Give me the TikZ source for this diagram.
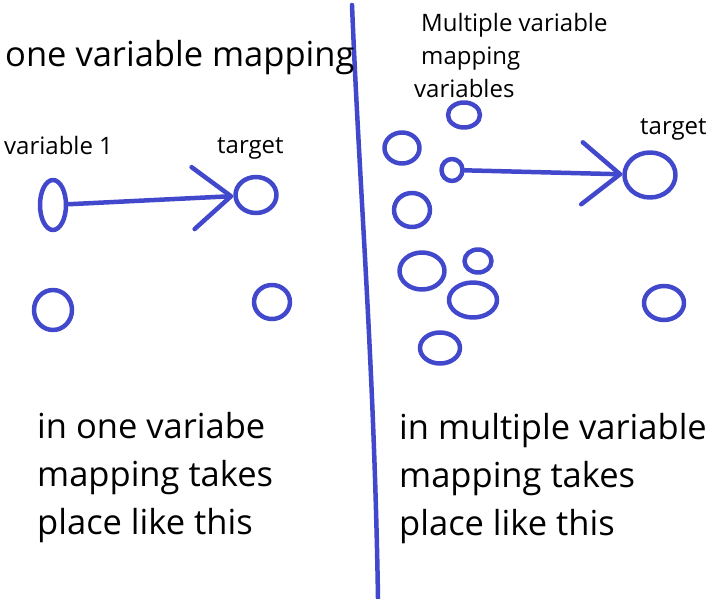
\documentclass[tikz,border=0pt]{standalone}
\usepackage{fontspec}
\setmainfont{Open Sans}
\usetikzlibrary{positioning, calc, arrows.meta, shapes.geometric}
\definecolor{penblue}{RGB}{66,72,204}

\begin{document}
\begin{tikzpicture}[x=1pt, y=-1pt,
    pen/.style={draw=penblue, line width=4.5pt, line cap=round, line join=round},
    blob/.style={pen, ellipse, inner sep=0pt},
    maparrow/.style={pen, -{Straight Barb[length=38pt, width=62pt, line cap=round, line join=round]}},
    lbl/.style={anchor=base west, inner sep=0pt, font=\fontsize{24}{30}\selectfont},
    big/.style={anchor=base west, inner sep=0pt, align=left, font=\fontsize{34.5}{48}\selectfont}]
    \useasboundingbox[fill=white] (0,0) rectangle (710,599);

    % Divider
    \coordinate (divtop) at (352,5);
    \coordinate (divbot) at (378,598);
    \draw[pen] (divtop) .. controls (360,200) and (374,360) .. (divbot);

    % One variable side
    \node[lbl, font=\fontsize{34.5}{40}\selectfont] (titleL) at (5,67) {one variable mapping};
    \node[lbl] (varlbl) at (4,155) {variable 1};
    \node[lbl] (tgtlblL) at (217,154) {target};
    \node[blob, minimum width=26pt, minimum height=50pt] (var1) at (53,205) {};
    \node[blob, minimum width=41pt, minimum height=36pt] (tgtL) at (256,195) {};
    \node[blob, minimum width=38pt, minimum height=40pt] (otherL) at (53,310) {};
    \node[blob, minimum width=36pt, minimum height=34pt] (tgtL2) at (272,302) {};
    \draw[maparrow] (var1) -- (tgtL);
    \node[big] (noteL) at (37,534) {in one variabe\\mapping takes\\place like this};

    % Multiple variable side
    \node[lbl] (titleR) at (421,32) {Multiple variable};
    \node[lbl] (titleR2) at (421,65) {mapping};
    \node[lbl] (varslbl) at (414,98) {variables};
    \node[lbl] (tgtlblR) at (640,135) {target};
    \node[blob, minimum width=32pt, minimum height=25pt] (v1) at (464,115) {};
    \node[blob, minimum width=35pt, minimum height=31pt] (v2) at (402,148) {};
    \node[blob, minimum width=21pt, minimum height=22pt] (src) at (452,170) {};
    \node[blob, minimum width=36pt, minimum height=34pt] (v3) at (412,210) {};
    \node[blob, minimum width=45pt, minimum height=37pt] (v4) at (422,271) {};
    \node[blob, minimum width=27pt, minimum height=23pt] (v5) at (478,261) {};
    \node[blob, minimum width=48pt, minimum height=35pt] (v6) at (473,300) {};
    \node[blob, minimum width=40pt, minimum height=31pt] (v7) at (440,348) {};
    \node[blob, minimum width=51pt, minimum height=45pt] (tgtR) at (650,175) {};
    \node[blob, minimum width=40pt, minimum height=34pt] (tgtR2) at (664,303) {};
    \draw[maparrow] (src) -- (tgtR);
    \node[big] (noteR) at (399,535) {in multiple variable\\mapping takes\\place like this};
\end{tikzpicture}
\end{document}
